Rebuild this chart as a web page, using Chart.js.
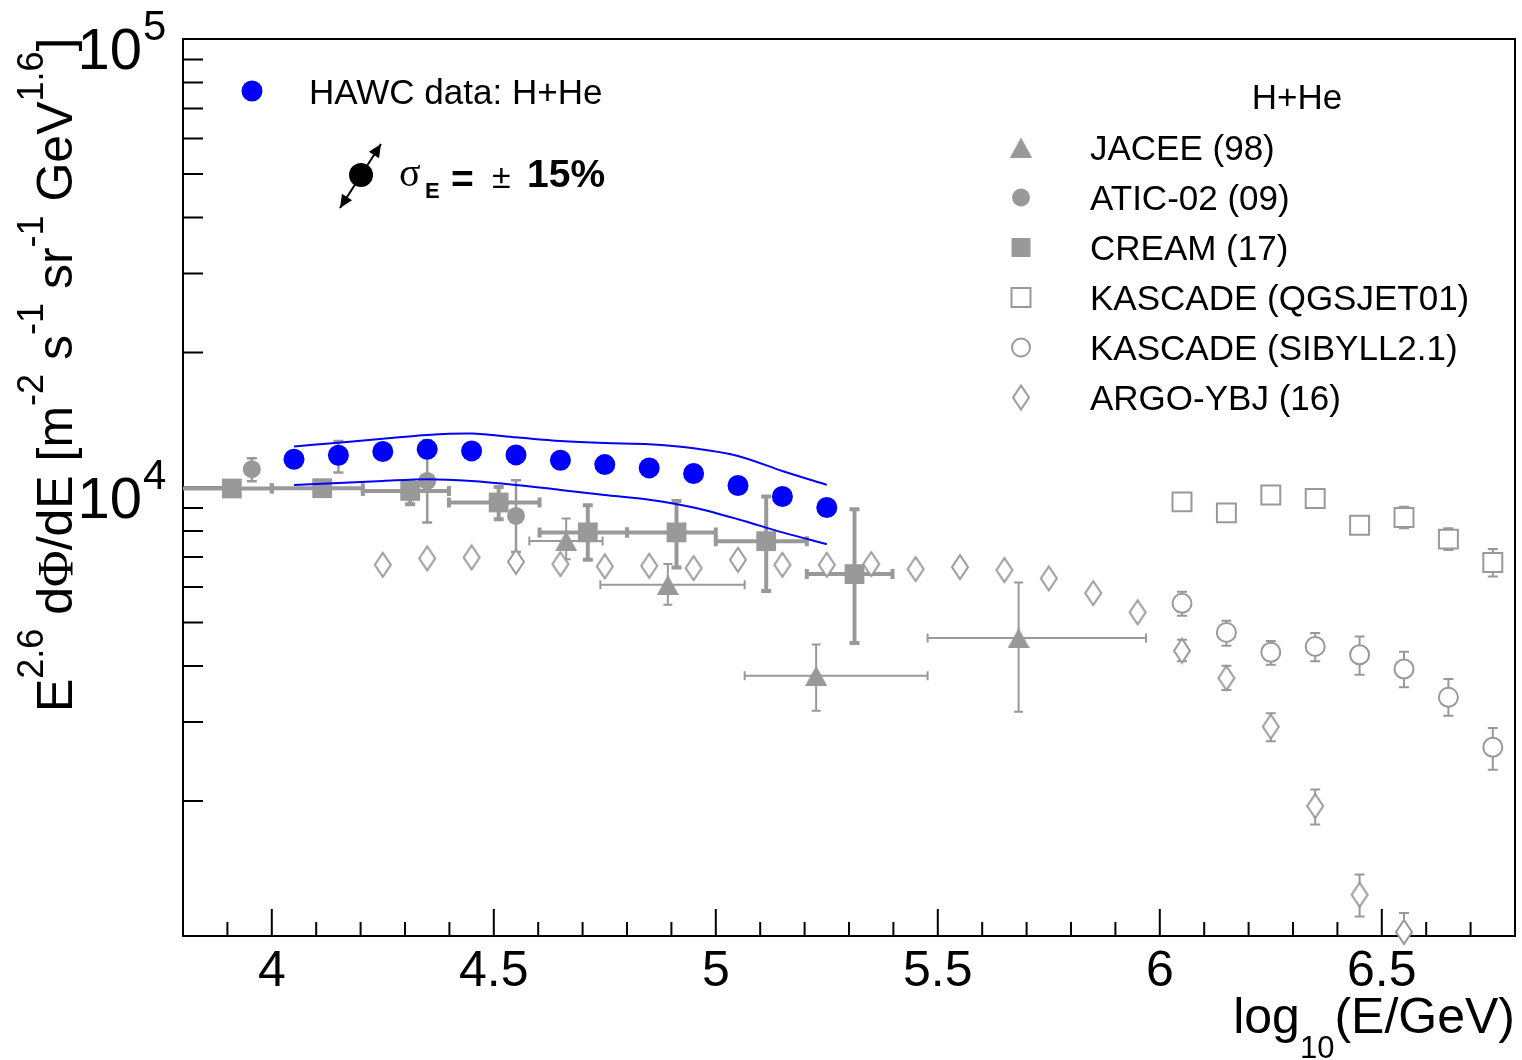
<!DOCTYPE html>
<html><head><meta charset="utf-8">
<script src="https://cdn.jsdelivr.net/npm/chart.js@4/dist/chart.umd.min.js"></script>
<style>html,body{margin:0;padding:0;background:#fff;overflow:hidden}#wrap{width:1522px;height:1060px;position:relative}</style>
</head><body><div id="wrap"><canvas id="c" width="1522" height="1060"></canvas></div>
<script>
// ---------------- DATA ----------------
const hawcX = [4.05,4.15,4.25,4.35,4.45,4.55,4.65,4.75,4.85,4.95,5.05,5.15,5.25];
const hawcY = [11561,11801,12028,12170,12065,11820,11503,11250,11056,10745,10103,9549,9026];
const hawcUpper = [12340,12589,12846,13098,13194,12942,12699,12563,12488,12232,11759,10887,10134];
const hawcLower = [10134,10240,10344,10435,10344,10134,9878,9627,9393,9026,8499,7941,7475];

const jaceeX   = [4.663,4.892,5.226,5.682];
const jaceeY   = [7603,6067,3805,4618];
const jaceeYLo = [6923,5477,3179,3164];
const jaceeYHi = [8531,6749,4469,6142];
const jaceeXLo = [4.580,4.740,5.065,5.477];
const jaceeXHi = [4.745,5.065,5.477,5.969];

const aticX   = [3.955,4.15,4.35,4.55];
const aticY   = [10983,11711,10344,8643];
const aticYLo = [10328,10800,8356,7177];
const aticYHi = [11620,12699,12747,10382];

const creamX   = [3.91,4.1135,4.3117,4.511,4.7117,4.9115,5.1135,5.3124];
const creamY   = [9949,9964,9827,9260,7941,7941,7591,6410];
const creamYLo = [9800,9810,9181,8499,6899,6635,5875,4498];
const creamYHi = [10100,10120,10276,10031,9133,9336,9549,8947];
const creamXLo = [3.8,4.0,4.205,4.399,4.603,4.8,5.0,5.205];
const creamXHi = [4.0,4.205,4.399,4.603,4.8,5.0,5.205,5.398];

const kqX   = [6.05,6.15,6.25,6.35,6.45,6.55,6.65,6.75];
const kqY   = [9289,8778,9627,9451,8241,8574,7672,6807];
const kqYLo = [9150,8650,9480,9310,8120,8116,7251,6336];
const kqYHi = [9430,8900,9770,9590,8360,9054,8116,7288];

const ksX   = [6.05,6.15,6.25,6.35,6.45,6.55,6.65,6.75];
const ksY   = [5517,4753,4291,4423,4238,3938,3405,2636];
const ksYLo = [5176,4437,4026,4097,3824,3586,3099,2347];
const ksYHi = [5854,5045,4547,4735,4656,4304,3741,2910];

const argoX   = [4.25,4.35,4.45,4.55,4.65,4.75,4.85,4.95,5.05,5.15,5.25,5.35,5.45,5.55,5.65,5.75,5.85,5.95,6.05,6.15,6.25,6.35,6.45,6.55];
const argoY   = [6724,6948,6984,6828,6749,6670,6690,6612,6899,6724,6724,6749,6577,6646,6543,6271,5815,5268,4326,3760,2929,1948,1236,1021];
const argoYLo = [6724,6948,6984,6828,6749,6670,6690,6612,6899,6724,6724,6749,6577,6646,6543,6271,5815,5268,4097,3537,2718,1773,1106,922];
const argoYHi = [6724,6948,6984,6828,6749,6670,6690,6612,6899,6724,6724,6749,6577,6646,6543,6271,5815,5268,4576,4006,3138,2121,1371,1125];

const xTickMajor = [4,4.5,5,5.5,6,6.5];
const xTickLabels = ['4','4.5','5','5.5','6','6.5'];
const yTickMajor = [10000,100000];
const yTickExp = ['4','5'];
const legendLabels = ['JACEE (98)','ATIC-02 (09)','CREAM (17)','KASCADE (QGSJET01)','KASCADE (SIBYLL2.1)','ARGO-YBJ (16)'];

// ---------------- STYLE ----------------
const GRAY = '#999999';
const BLUE = '#0000ff';
const FONT = "'Liberation Sans', Arial, Helvetica, sans-serif";
const SERIF = "'Liberation Serif', 'DejaVu Serif', serif";

function makeDiamond(w,h,lw,color){
  const c=document.createElement('canvas'); c.width=w+lw*2; c.height=h+lw*2;
  const g=c.getContext('2d'); const cx=c.width/2, cy=c.height/2;
  g.beginPath(); g.moveTo(cx,cy-h/2); g.lineTo(cx+w/2,cy); g.lineTo(cx,cy+h/2); g.lineTo(cx-w/2,cy); g.closePath();
  g.fillStyle='#fff'; g.fill(); g.lineWidth=lw; g.strokeStyle=color; g.stroke(); return c;
}
function makeTriangle(w,h,color){
  const c=document.createElement('canvas'); c.width=w; c.height=h;
  const g=c.getContext('2d'); g.beginPath(); g.moveTo(w/2,0); g.lineTo(w,h); g.lineTo(0,h); g.closePath();
  g.fillStyle=color; g.fill(); return c;
}
const diamondImg = makeDiamond(16,24,2,GRAY);
const triImg = makeTriangle(22,20,GRAY);

const pts = (xs,ys)=>xs.map((x,i)=>({x:x,y:ys[i]}));

const errorSets = [
  {x:aticX,y:aticY,yLo:aticYLo,yHi:aticYHi,lw:2.5,cap:10,capW:2.5},
  {x:creamX,y:creamY,yLo:creamYLo,yHi:creamYHi,xLo:creamXLo,xHi:creamXHi,lw:4,cap:10,capW:4},
  {x:jaceeX,y:jaceeY,yLo:jaceeYLo,yHi:jaceeYHi,xLo:jaceeXLo,xHi:jaceeXHi,lw:2,cap:9,capW:2},
  {x:kqX,y:kqY,yLo:kqYLo,yHi:kqYHi,lw:2,cap:10,capW:2},
  {x:ksX,y:ksY,yLo:ksYLo,yHi:ksYHi,lw:2,cap:10,capW:2},
  {x:argoX,y:argoY,yLo:argoYLo,yHi:argoYHi,lw:2,cap:10,capW:2}
];

function drawSegments(ctx, segs, x, y){
  let cx=x;
  for(const s of segs){
    ctx.font=(s.bold?'bold ':'')+s.size+'px '+(s.fam||FONT);
    ctx.fillText(s.t, cx, y+(s.dy||0));
    cx+=ctx.measureText(s.t).width;
  }
  return cx-x;
}
function segWidth(ctx, segs){
  let w=0; for(const s of segs){ ctx.font=(s.bold?'bold ':'')+s.size+'px '+(s.fam||FONT); w+=ctx.measureText(s.t).width; } return w;
}

const overlay = {
  id:'overlay',
  beforeDatasetsDraw(chart){
    const ctx=chart.ctx, xs=chart.scales.x, ys=chart.scales.y, a=chart.chartArea;
    ctx.save();
    ctx.strokeStyle='#000'; ctx.lineWidth=2;
    ctx.strokeRect(a.left,a.top,a.right-a.left,a.bottom-a.top);
    ctx.beginPath();
    for(let i=39;i<=67;i++){
      const v=i/10; const px=xs.getPixelForValue(v);
      if(px<=a.left+1||px>=a.right-1) continue;
      const major = xTickMajor.some(m=>Math.abs(m-v)<1e-6);
      const len = major?27:14;
      ctx.moveTo(px,a.bottom); ctx.lineTo(px,a.bottom-len);
    }
    for(let d=3; d<=4; d++){
      for(let m=1;m<=9;m++){
        const v=m*Math.pow(10,d); const py=ys.getPixelForValue(v);
        if(py>=a.bottom-1||py<=a.top+1) continue;
        const len = (m===1)?40:20;
        ctx.moveTo(a.left,py); ctx.lineTo(a.left+len,py);
      }
    }
    ctx.stroke();
    ctx.restore();

    ctx.save();
    ctx.beginPath(); ctx.rect(a.left,a.top,a.right-a.left,a.bottom-a.top); ctx.clip();
    ctx.strokeStyle=GRAY; ctx.lineCap='butt';
    for(const e of errorSets){
      for(let i=0;i<e.x.length;i++){
        const px=xs.getPixelForValue(e.x[i]);
        const lo=ys.getPixelForValue(e.yLo[i]), hi=ys.getPixelForValue(e.yHi[i]);
        const py=ys.getPixelForValue(e.y[i]);
        ctx.lineWidth=e.lw;
        if(Math.abs(lo-hi)>3){
          ctx.beginPath(); ctx.moveTo(px,lo); ctx.lineTo(px,hi); ctx.stroke();
          ctx.lineWidth=e.capW;
          ctx.beginPath(); ctx.moveTo(px-e.cap/2,lo); ctx.lineTo(px+e.cap/2,lo);
          ctx.moveTo(px-e.cap/2,hi); ctx.lineTo(px+e.cap/2,hi); ctx.stroke();
        }
        if(e.xLo){
          const l=xs.getPixelForValue(e.xLo[i]), r=xs.getPixelForValue(e.xHi[i]);
          ctx.lineWidth=e.lw;
          ctx.beginPath(); ctx.moveTo(l,py); ctx.lineTo(r,py); ctx.stroke();
          ctx.lineWidth=e.capW;
          ctx.beginPath();
          if(l>a.left+2){ctx.moveTo(l,py-e.cap/2); ctx.lineTo(l,py+e.cap/2);}
          ctx.moveTo(r,py-e.cap/2); ctx.lineTo(r,py+e.cap/2); ctx.stroke();
        }
      }
    }
    ctx.restore();
  },
  afterDatasetsDraw(chart){
    const ctx=chart.ctx, xs=chart.scales.x, ys=chart.scales.y, a=chart.chartArea;
    ctx.save();
    ctx.fillStyle='#000'; ctx.textBaseline='alphabetic';
    ctx.font='50px '+FONT; ctx.textAlign='center';
    xTickMajor.forEach((v,i)=>{ ctx.fillText(xTickLabels[i], xs.getPixelForValue(v), 986); });
    yTickMajor.forEach((v,i)=>{
      const py=ys.getPixelForValue(v);
      ctx.font='58px '+FONT; ctx.textAlign='right'; ctx.fillText('10',142,py+30);
      ctx.font='42px '+FONT; ctx.textAlign='left'; ctx.fillText(yTickExp[i],143,py+1);
    });
    ctx.textAlign='left';
    const xt=[{t:'log',size:50},{t:'10',size:31,dy:25},{t:'(E/GeV)',size:50}];
    const xw=segWidth(ctx,xt);
    drawSegments(ctx,xt,a.right-xw,1033);
    const sup=-29, ss=36, ms=50;
    const yt=[{t:'E',size:ms},{t:'2.6',size:ss,dy:sup},{t:' d',size:ms},{t:'\u03A6',size:ms,fam:SERIF},{t:'/dE [m',size:ms},
      {t:'-2',size:ss,dy:sup},{t:' s',size:ms},{t:'-1',size:ss,dy:sup},{t:' sr',size:ms},{t:'-1',size:ss,dy:sup},
      {t:' GeV',size:ms},{t:'1.6',size:ss,dy:sup},{t:']',size:ms}];
    ctx.save();
    ctx.translate(72,712); ctx.rotate(-Math.PI/2);
    drawSegments(ctx,yt,0,0);
    ctx.restore();

    ctx.fillStyle=BLUE; ctx.beginPath(); ctx.arc(252,91,10.5,0,Math.PI*2); ctx.fill();
    ctx.fillStyle='#000'; ctx.font='35px '+FONT; ctx.textAlign='left';
    ctx.fillText('HAWC data: H+He',309,103.5);

    ctx.fillStyle='#000'; ctx.strokeStyle='#000'; ctx.lineWidth=2;
    ctx.beginPath(); ctx.arc(361,175,12,0,Math.PI*2); ctx.fill();
    const ax0=340, ay0=208, ax1=381, ay1=144;
    ctx.beginPath(); ctx.moveTo(ax0,ay0); ctx.lineTo(ax1,ay1); ctx.stroke();
    const ang=Math.atan2(ay1-ay0,ax1-ax0);
    function head(x,y,an){ ctx.beginPath(); ctx.moveTo(x,y);
      ctx.lineTo(x-13*Math.cos(an)+6*Math.sin(an), y-13*Math.sin(an)-6*Math.cos(an));
      ctx.lineTo(x-13*Math.cos(an)-6*Math.sin(an), y-13*Math.sin(an)+6*Math.cos(an)); ctx.closePath(); ctx.fill(); }
    head(ax1,ay1,ang); head(ax0,ay0,ang+Math.PI);
    ctx.font='40px '+SERIF; ctx.fillText('\u03C3',399,186);
    ctx.font='bold 22px '+FONT; ctx.fillText('E',425,198);
    ctx.font='bold 39px '+FONT; ctx.fillText('=',451,192);
    ctx.font='34px '+FONT; ctx.fillText('\u00B1',492,188);
    ctx.font='bold 39px '+FONT; ctx.fillText('15%',527,187);

    ctx.font='35px '+FONT; ctx.textAlign='center'; ctx.fillStyle='#000';
    ctx.fillText('H+He',1297,108.5);
    ctx.textAlign='left';
    const ly0=147.5, dy=50;
    legendLabels.forEach((t,i)=>{ ctx.fillStyle='#000'; ctx.fillText(t,1090,ly0+i*dy+12.5); });
    const mx=1021;
    ctx.drawImage(triImg,mx-11,ly0-10);
    ctx.fillStyle=GRAY; ctx.beginPath(); ctx.arc(mx,ly0+dy,9,0,Math.PI*2); ctx.fill();
    ctx.fillRect(mx-9.5,ly0+2*dy-9.5,19,19);
    ctx.strokeStyle=GRAY; ctx.lineWidth=2;
    ctx.strokeRect(mx-9.5,ly0+3*dy-9.5,19,19);
    ctx.beginPath(); ctx.arc(mx,ly0+4*dy,9,0,Math.PI*2); ctx.stroke();
    ctx.drawImage(diamondImg,mx-diamondImg.width/2,ly0+5*dy-diamondImg.height/2);
    ctx.restore();
  }
};

new Chart(document.getElementById('c'),{
  type:'scatter',
  data:{datasets:[
    {label:'HAWC data: H+He',data:pts(hawcX,hawcY),pointStyle:'circle',pointRadius:10.5,pointBackgroundColor:BLUE,pointBorderWidth:0,showLine:false,clip:false},
    {label:'HAWC upper',data:pts(hawcX,hawcUpper),showLine:true,borderColor:BLUE,borderWidth:2,pointRadius:0,fill:false,tension:0.3},
    {label:'HAWC lower',data:pts(hawcX,hawcLower),showLine:true,borderColor:BLUE,borderWidth:2,pointRadius:0,fill:false,tension:0.3},
    {label:'ATIC-02 (09)',data:pts(aticX,aticY),pointStyle:'circle',pointRadius:9,pointBackgroundColor:GRAY,pointBorderWidth:0,clip:false},
    {label:'CREAM (17)',data:pts(creamX,creamY),pointStyle:'rect',pointRadius:14,pointBackgroundColor:GRAY,pointBorderWidth:0,clip:false},
    {label:'JACEE (98)',data:pts(jaceeX,jaceeY),pointStyle:triImg,pointRadius:11,clip:false},
    {label:'KASCADE (QGSJET01)',data:pts(kqX,kqY),pointStyle:'rect',pointRadius:13.4,pointBackgroundColor:'#fff',pointBorderColor:GRAY,pointBorderWidth:2,clip:false},
    {label:'KASCADE (SIBYLL2.1)',data:pts(ksX,ksY),pointStyle:'circle',pointRadius:9.5,pointBackgroundColor:'#fff',pointBorderColor:GRAY,pointBorderWidth:2,clip:false},
    {label:'ARGO-YBJ (16)',data:pts(argoX,argoY),pointStyle:diamondImg,pointRadius:12,clip:false}
  ]},
  options:{
    responsive:false, animation:false, devicePixelRatio:1, events:[],
    layout:{autoPadding:false,padding:{left:183,top:39,right:7,bottom:124}},
    scales:{
      x:{type:'linear',min:3.8,max:6.8,display:false},
      y:{type:'logarithmic',min:1000,max:100000,display:false}
    },
    plugins:{legend:{display:false},tooltip:{enabled:false}}
  },
  plugins:[overlay]
});
</script></body></html>
